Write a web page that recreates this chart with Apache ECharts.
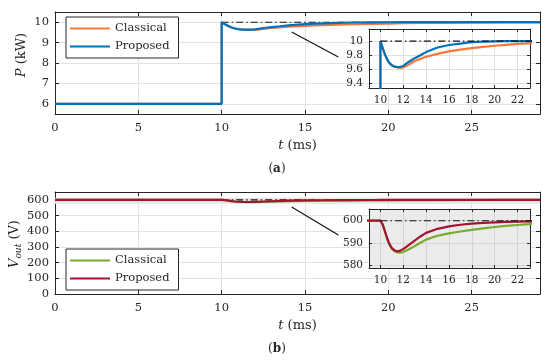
<!DOCTYPE html>
<html><head><meta charset="utf-8">
<script src="https://cdn.jsdelivr.net/npm/echarts@6/dist/echarts.min.js"></script>
<style>html,body{margin:0;padding:0;background:#fff}#c{width:550px;height:360px}</style>
</head><body><div id="c"></div>
<script>
// ---- data ----
const timeP = [0, 10, 10, 10.2, 10.4, 10.6, 10.8, 11, 11.25, 11.5, 11.75, 12, 12.5, 13, 13.5, 14, 15, 16, 17, 18, 19, 20, 21, 22, 23, 25, 27, 29.1];
const pProposed = [6, 6, 10, 9.90, 9.81, 9.74, 9.69, 9.66, 9.64, 9.633, 9.638, 9.65, 9.71, 9.76, 9.80, 9.845, 9.91, 9.945, 9.965, 9.985, 9.993, 9.997, 10, 10, 10, 10, 10, 10];
const pClassical = [6, 6, 10, 9.90, 9.81, 9.74, 9.69, 9.66, 9.64, 9.628, 9.622, 9.628, 9.67, 9.72, 9.75, 9.78, 9.82, 9.855, 9.88, 9.90, 9.918, 9.934, 9.948, 9.96, 9.968, 9.98, 9.99, 9.995];
const timeV = [0, 10, 10.2, 10.4, 10.6, 10.8, 11, 11.25, 11.5, 11.75, 12, 12.5, 13, 13.5, 14, 15, 16, 17, 18, 19, 20, 21, 22, 23, 25, 27, 29.1];
const vProposed = [600, 600, 598.3, 595.2, 592.0, 589.5, 587.8, 586.8, 586.4, 586.7, 587.4, 589.3, 591.2, 593.0, 594.6, 596.4, 597.5, 598.2, 598.7, 599.0, 599.3, 599.5, 599.6, 599.7, 599.85, 599.95, 600];
const vClassical = [600, 600, 598.3, 595.2, 592.0, 589.5, 587.6, 586.4, 585.9, 585.8, 586.1, 587.3, 588.7, 590.2, 591.6, 593.3, 594.4, 595.2, 595.9, 596.6, 597.2, 597.7, 598.1, 598.5, 599.0, 599.4, 599.7];
const refTime = [10, 29.1];
const refP = [10, 10];
const refV = [600, 600];
const seriesNames = ['Classical', 'Proposed'];
const mainXTicks = [0, 5, 10, 15, 20, 25];
const insetXTicks = [10, 12, 14, 16, 18, 20, 22];
const insetPTicks = [9.4, 9.6, 9.8, 10];
const insetVTicks = [580, 590, 600];
const mainPTicks = [6, 7, 8, 9, 10];
const mainVTicks = [0, 100, 200, 300, 400, 500, 600];

const zip = (a, b) => a.map((t, i) => [t, b[i]]);
const FF = 'DejaVu Serif';
const INK = '#262626';
const GRIDC = '#e2e2e2';
const inList = (list) => (v) => { const r = Math.round(v * 1000) / 1000; return list.some(x => Math.abs(x - r) < 1e-6) ? String(r) : ''; };

function xAx(g, min, max, opts, labels, fs, z) {
  return Object.assign({
    gridIndex: g, type: 'value', min: min, max: max, z: z,
    axisLine: { onZero: false, lineStyle: { color: INK, width: 1 } },
    axisTick: { inside: true, length: 4, lineStyle: { color: INK } },
    axisLabel: { formatter: inList(labels), fontFamily: FF, fontSize: fs, color: INK, margin: 8 },
    splitLine: { show: true, lineStyle: { color: GRIDC, width: 1 } }
  }, opts);
}
function mirror(base, pos) {
  return Object.assign({}, base, {
    position: pos, axisLabel: { show: false }, splitLine: { show: false }, name: ''
  });
}
const tName = { name: '{i|t} (ms)', nameLocation: 'middle', nameGap: 25,
  nameTextStyle: { fontFamily: FF, fontSize: 13, color: INK, rich: { i: { fontStyle: 'italic', fontFamily: FF, fontSize: 13, color: INK } } } };

const x0 = xAx(0, 0, 29.1, Object.assign({ interval: 5 }, tName), mainXTicks, 11.5, 0);
const x2 = xAx(1, 9, 23.1, { splitNumber: 7 }, insetXTicks, 10.5, 4);
x2.axisLabel.margin = 7; x2.axisTick.length = 3;
const x4 = xAx(2, 0, 29.1, Object.assign({ interval: 5 }, tName), mainXTicks, 11.5, 0);
const x6 = xAx(3, 9, 23.1, { splitNumber: 7 }, insetXTicks, 10.5, 4);
x6.axisLabel.margin = 7; x6.axisTick.length = 3;

const y0 = xAx(0, 5.5, 10.5, { splitNumber: 5 }, mainPTicks, 11.5, 0); y0.axisLabel.margin = 6;
const y2 = xAx(1, 9.34, 10.17, { splitNumber: 4 }, insetPTicks, 10.5, 4); y2.axisLabel.margin = 6; y2.axisTick.length = 3;
const y4 = xAx(2, 0, 650, { interval: 100 }, mainVTicks, 11.5, 0); y4.axisLabel.margin = 6;
const y6 = xAx(3, 579, 605.2, { splitNumber: 3 }, insetVTicks, 10.5, 4); y6.axisLabel.margin = 6; y6.axisTick.length = 3;
y2.splitLine.lineStyle.color = '#e0e0e0';
x2.splitLine.lineStyle.color = '#e0e0e0';
y6.splitLine.lineStyle.color = '#d4d4d4';
x6.splitLine.lineStyle.color = '#d4d4d4';

const xAxis = [x0, mirror(x0, 'top'), x2, mirror(x2, 'top'), x4, mirror(x4, 'top'), x6, mirror(x6, 'top')];
const yAxis = [y0, mirror(y0, 'right'), y2, mirror(y2, 'right'), y4, mirror(y4, 'right'), y6, mirror(y6, 'right')];

const C = { orange: '#f47a3a', blue: '#0072bd', green: '#77ac30', red: '#a2142f' };
function ln(name, data, color, xi, z, extra) {
  return Object.assign({ type: 'line', name: name, data: data, xAxisIndex: xi, yAxisIndex: xi,
    symbol: 'none', z: z, lineStyle: { color: color, width: 2.2 }, itemStyle: { color: color },
    animation: false, clip: true }, extra || {});
}
function refLn(data, xi, z, extra) {
  return Object.assign({ type: 'line', data: data, xAxisIndex: xi, yAxisIndex: xi, symbol: 'none', z: z,
    lineStyle: { color: '#111', width: 1.1, type: [7, 3, 1.5, 3] }, animation: false, silent: true }, extra || {});
}
const connector = (a, b) => ({ symbol: 'none', silent: true, animation: false,
  lineStyle: { color: '#111', width: 1.1, type: 'solid' }, label: { show: false },
  data: [[{ coord: a }, { coord: b }]] });

const series = [
  refLn(zip(refTime, refP), 0, 2, { markLine: connector([14.2, 9.52], [17.0, 8.29]) }),
  ln(seriesNames[0], zip(timeP, pClassical), C.orange, 0, 3),
  ln(seriesNames[1], zip(timeP, pProposed), C.blue, 0, 3),
  ln(seriesNames[0], zip(timeP, pClassical), C.orange, 2, 5),
  ln(seriesNames[1], zip(timeP, pProposed), C.blue, 2, 5),
  refLn(zip(refTime, refP), 2, 6),
  refLn(zip(refTime, refV), 4, 2, { markLine: connector([14.2, 554], [17.0, 376]),
    markArea: { silent: true, z: 1, itemStyle: { color: '#e6e6e6', opacity: 1 }, data: [[{ xAxis: 0, yAxis: 575 }, { xAxis: 29.1, yAxis: 613 }]] } }),
  ln(seriesNames[0] + ' (b)', zip(timeV, vClassical), C.green, 4, 3),
  ln(seriesNames[1] + ' (b)', zip(timeV, vProposed), C.red, 4, 3),
  ln(seriesNames[0] + ' (b)', zip(timeV, vClassical), C.green, 6, 5),
  ln(seriesNames[1] + ' (b)', zip(timeV, vProposed), C.red, 6, 5),
  refLn(zip(refTime, refV), 6, 6)
];

function legend(top, names) {
  return { left: 66, top: top, orient: 'vertical', data: names, itemWidth: 40, itemHeight: 2.2, itemGap: 5,
    icon: 'rect', padding: [5, 9, 5, 4], borderColor: INK, borderWidth: 1, backgroundColor: '#fff',
    formatter: (n) => n.replace(' (b)', ''), selectedMode: false,
    textStyle: { fontFamily: FF, fontSize: 11.5, color: INK, lineHeight: 13 } };
}

const chart = echarts.init(document.getElementById('c'), null, { renderer: 'canvas' });
chart.setOption({
  backgroundColor: '#fff',
  animation: false,
  grid: [
    { left: 55, top: 12, width: 485, height: 102, containLabel: false },
    { left: 369, top: 29, width: 161, height: 59, show: true, backgroundColor: '#fff', borderWidth: 0, z: 3 },
    { left: 55, top: 192, width: 485, height: 102 },
    { left: 369, top: 209, width: 161, height: 59, show: true, backgroundColor: '#ebebeb', borderWidth: 0, z: 3 }
  ],
  xAxis: xAxis,
  yAxis: yAxis,
  legend: [legend(17, seriesNames), legend(249, seriesNames.map(n => n + ' (b)'))],
  series: series,
  graphic: [
    { type: 'text', x: 22, y: 55, rotation: Math.PI / 2, silent: true,
      style: { text: '{i|P} (kW)', fontFamily: FF, fontSize: 13, fill: INK, align: 'center', verticalAlign: 'middle',
        rich: { i: { fontStyle: 'italic', fontFamily: FF, fontSize: 13, fill: INK } } } },
    { type: 'text', x: 15, y: 244, rotation: Math.PI / 2, silent: true,
      style: { text: '{v|V}{s|out} (V)', fontFamily: FF, fontSize: 13, fill: INK, align: 'center', verticalAlign: 'middle',
        rich: { v: { fontStyle: 'italic', fontFamily: FF, fontSize: 13, lineHeight: 16, fill: INK },
                s: { fontStyle: 'italic', fontFamily: FF, fontSize: 9, lineHeight: 9, verticalAlign: 'bottom', fill: INK } } } },
    { type: 'text', x: 277, y: 169, silent: true,
      style: { text: '({b|a})', fontFamily: FF, fontSize: 12, fill: INK, align: 'center', verticalAlign: 'middle',
        rich: { b: { fontWeight: 'bold', fontFamily: FF, fontSize: 12, fill: INK } } } },
    { type: 'text', x: 277, y: 349, silent: true,
      style: { text: '({b|b})', fontFamily: FF, fontSize: 12, fill: INK, align: 'center', verticalAlign: 'middle',
        rich: { b: { fontWeight: 'bold', fontFamily: FF, fontSize: 12, fill: INK } } } }
  ]
});
</script>
</body></html>
